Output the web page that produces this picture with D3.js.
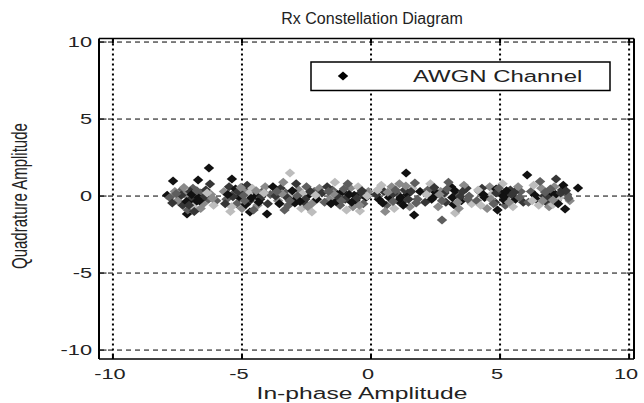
<!DOCTYPE html>
<html>
<head>
<meta charset="utf-8">
<script src="https://cdn.jsdelivr.net/npm/d3@7"></script>
<style>
  html, body { margin: 0; padding: 0; background: #fff; }
  svg { display: block; font-family: "Liberation Sans", Arial, sans-serif; }
</style>
</head>
<body>
<svg id="chart" width="644" height="403"></svg>
<script>
// ---------- data ----------
const titleText = "Rx Constellation Diagram";
const xLabelText = "In-phase Amplitude";
const yLabelText = "Quadrature Amplitude";
const legendLabel = "AWGN Channel";
const xTicks = [-10, -5, 0, 5, 10];
const yTicks = [-10, -5, 0, 5, 10];
const xLimits = [-10.54, 10.19];
const yLimits = [-10.58, 10.23];

// received in-phase values
const inPhase = [
  -7.9,-7.67,-6.7,-6.24,-6.28,-7.13,-7.4,-7.2,-7.0,-6.8,-6.6,-7.5,-6.9,-7.3,-6.5,-7.1,-6.4,-6.3,-6.9,-7.6,-6.7,-6.2,-6.0,-7.0,-6.6,-6.1,-7.8,-6.85,
  -5.39,-4.69,-4.03,-5.5,-5.3,-5.1,-4.9,-4.7,-5.2,-4.5,-4.4,-5.6,-4.8,-4.2,-4.6,-5.0,-4.3,-5.4,-4.1,-5.7,-4.0,-4.85,-5.25,-4.55,-3.9,-5.45,-4.75,
  -3.14,-2.29,-3.5,-3.3,-3.0,-2.8,-2.6,-3.2,-2.4,-3.6,-2.9,-2.2,-3.4,-2.7,-2.5,-3.1,-2.3,-3.7,-2.1,-3.35,-2.95,-2.65,-3.8,-2.0,
  -0.43,-1.5,-1.3,-1.0,-0.8,-0.6,-1.2,-0.4,-1.6,-0.9,-0.2,-1.4,-0.7,-0.5,-1.1,-0.3,-1.7,-0.1,-1.35,-0.95,-1.8,-0.65,-1.9,
  1.36,1.67,0.5,0.7,1.0,1.2,0.8,1.4,0.6,1.6,0.3,1.1,1.8,0.9,1.3,0.4,1.5,0.2,1.9,0.75,1.05,0.55,1.7,
  2.75,3.26,2.2,2.4,2.7,2.9,3.1,3.3,2.6,3.5,3.7,2.3,3.0,3.4,2.1,3.8,2.8,3.6,3.2,2.5,3.9,2.45,
  4.2,4.4,4.6,4.8,5.0,5.2,5.4,5.6,4.5,5.1,4.3,5.8,4.9,5.3,4.7,5.5,4.1,5.9,5.15,4.85,5.7,4.25,
  6.05,8.02,7.17,7.52,6.2,6.4,6.6,6.8,7.0,7.2,7.4,6.3,6.9,7.6,6.5,7.1,6.7,7.3,7.7,6.1,6.85,7.45,6.55,7.05,
  -7.35,-6.95,-6.75,-7.15,-6.45,-7.55,-6.65,-7.25,-6.35,-7.05,-6.15,-7.7,
  -5.35,-4.95,-4.65,-5.15,-4.45,-5.55,-4.25,-4.9,-5.05,-4.35,-5.65,-4.15,
  -3.25,-2.85,-3.05,-2.55,-3.45,-2.75,-3.15,-2.35,-3.55,-2.45,-2.15,-3.65,
  -1.25,-0.85,-1.05,-0.55,-1.45,-0.75,-1.15,-0.35,-1.55,-0.45,-0.15,-1.65,
  0.85,1.15,0.95,1.45,0.65,1.25,0.85,1.55,0.45,1.35,0.25,1.75,
  2.85,3.15,2.95,3.45,2.65,3.25,2.75,3.55,2.35,3.35,2.15,3.75,
  4.85,5.15,4.95,5.45,4.65,5.25,4.75,5.55,4.35,5.35,4.15,5.75,
  6.85,7.15,6.95,7.35,6.65,7.25,6.75,7.55,6.35,7.05,6.25,7.65
];
// received quadrature values
const quadrature = [
  0.05,0.97,1.04,0.78,1.82,-1.17,0.3,0.1,-0.2,-0.4,0.2,-0.3,0.5,-0.6,-0.5,-0.9,0.4,-0.2,-0.7,0.3,-0.1,0.1,-0.3,0.3,-0.8,-0.6,-0.1,-1.0,
  1.1,-1.04,-1.17,0.6,0.2,-0.1,0.4,-0.3,-0.5,0.1,-0.6,-0.2,0.7,0.3,0.5,-0.8,-0.2,-0.7,0.6,0.3,-0.5,-0.55,0.45,-0.9,0.1,-1.0,0.15,
  1.49,-1.04,0.5,0.2,-0.2,0.4,-0.4,-0.6,0.1,-0.3,0.8,0.3,0.9,-0.8,0.6,0.1,-0.5,0.0,-0.2,-0.9,-0.45,0.15,0.6,0.5,
  -0.97,0.4,0.1,-0.2,0.5,-0.3,-0.6,0.2,-0.2,0.8,-0.1,0.9,-0.7,0.6,0.3,-0.5,0.6,0.3,-0.35,-0.9,-0.4,0.05,0.2,
  1.49,-1.23,0.3,-0.1,0.2,-0.4,0.6,0.1,-0.6,0.5,-0.2,0.8,-0.2,-0.8,0.4,0.7,-0.7,0.1,0.3,0.0,-0.3,-1.0,0.85,
  -1.56,-1.1,0.4,-0.1,0.3,-0.4,0.6,0.1,-0.7,-0.3,0.5,0.8,0.9,-0.8,-0.4,0.0,0.05,0.7,-0.55,0.25,-0.5,0.55,
  0.3,-0.1,0.6,-0.4,0.2,-0.6,0.4,-0.2,-0.8,0.8,0.5,0.3,-0.9,0.0,0.15,-0.7,-0.3,-0.4,-0.25,0.45,0.6,-0.6,
  1.36,0.52,1.1,-0.84,0.3,-0.2,0.5,-0.4,0.2,-0.3,0.4,0.7,-0.7,0.1,-0.6,0.6,0.0,-0.1,-0.3,-0.4,0.25,0.7,0.95,-0.55,
  0.05,0.1,0.35,-0.35,-0.05,0.15,-0.3,0.55,0.2,-0.6,-0.15,-0.45,
  -0.05,0.05,-0.15,0.3,0.35,0.1,-0.05,-0.3,0.55,-0.4,-0.5,0.2,
  -0.1,0.0,0.35,-0.2,0.15,-0.35,-0.3,0.3,-0.5,-0.7,0.05,0.3,
  -0.1,0.1,0.45,-0.15,0.15,-0.4,-0.3,0.35,-0.5,-0.6,0.0,0.3,
  0.15,-0.1,0.4,-0.2,0.25,-0.6,-0.35,0.3,-0.45,0.65,0.4,-0.45,
  0.2,-0.1,0.45,-0.05,0.1,0.35,-0.3,0.3,-0.2,-0.4,0.1,-0.2,
  0.2,-0.05,0.5,0.1,-0.2,0.35,-0.5,0.25,0.1,-0.4,0.4,-0.1,
  -0.15,0.1,0.45,0.2,-0.3,-0.5,0.25,0.35,0.05,-0.25,-0.3,-0.15
];
// shade group of each point (0 = darkest ... 4 = lightest)
const shadeGroup = [
  0,0,0,1,0,0,2,3,1,0,2,3,2,1,3,2,1,2,4,3,0,3,2,1,3,4,2,1,
  0,0,0,1,2,0,3,1,2,0,3,2,1,2,4,3,0,4,3,3,1,0,0,2,2,4,4,
  4,4,1,2,0,3,1,2,0,3,1,2,3,4,2,4,3,1,0,2,0,4,0,3,
  4,2,0,1,3,0,2,1,3,2,0,4,3,4,0,2,1,3,0,4,2,0,1,
  0,0,1,0,2,1,3,0,2,4,0,3,2,4,1,4,3,1,0,0,0,3,2,
  2,4,2,0,3,1,0,2,3,0,1,4,2,3,1,2,4,3,0,0,4,1,
  2,0,3,1,0,2,1,0,3,4,1,2,0,3,4,4,2,1,0,0,3,4,
  0,0,1,0,2,0,3,1,0,2,1,4,3,2,4,3,1,4,3,2,0,0,2,4,
  1,0,2,0,1,2,0,3,4,1,3,1,
  1,2,0,1,3,0,1,2,3,0,1,4,
  1,2,0,1,3,0,2,1,0,3,4,2,
  1,0,2,1,3,0,2,1,0,3,4,2,
  1,0,2,1,3,0,2,1,0,3,4,2,
  1,0,2,1,3,0,2,1,0,3,4,2,
  1,0,2,1,3,0,2,1,0,3,4,2,
  1,0,2,1,3,0,2,1,0,3,4,2
];

// ---------- layout ----------
const svg = d3.select("#chart");
const box = { left: 99, right: 634, top: 38.5, bottom: 359 };
const x = d3.scaleLinear().domain(xLimits).range([box.left, box.right]);
const y = d3.scaleLinear().domain(yLimits).range([box.bottom, box.top]);
const shade = d3.scaleOrdinal().domain([0,1,2,3,4]).range(["#111111","#363636","#5e5e5e","#8a8a8a","#bdbdbd"]);
const stretch = 1.45; // horizontal glyph stretch seen in the picture

const diamond = "M0,-4.5L5.2,0L0,4.5L-5.2,0Z";

svg.append("rect").attr("x", box.left).attr("y", box.top)
  .attr("width", box.right - box.left).attr("height", box.bottom - box.top).attr("fill", "#fff");

// grid lines
const grid = svg.append("g");
grid.selectAll("line.vg").data(xTicks).join("line")
  .attr("x1", d => x(d)).attr("x2", d => x(d))
  .attr("y1", box.top).attr("y2", box.bottom)
  .attr("stroke", "#000").attr("stroke-width", 2).attr("stroke-dasharray", "2,3");
grid.selectAll("line.hg").data(yTicks).join("line")
  .attr("x1", box.left).attr("x2", box.right)
  .attr("y1", d => y(d)).attr("y2", d => y(d))
  .attr("stroke", "#000").attr("stroke-width", 1).attr("stroke-dasharray", "5,4");

// points
const pts = inPhase.map((v, i) => ({ i: v, q: quadrature[i], g: shadeGroup[i] }));
svg.append("g").selectAll("path").data(pts).join("path")
  .attr("d", diamond)
  .attr("transform", d => `translate(${x(d.i)},${y(d.q)})`)
  .attr("fill", d => shade(d.g));

// axes box and inward ticks
const tl = 5;
const ax = svg.append("g").attr("stroke", "#000");
ax.selectAll("line.bt").data(xTicks).join("line")
  .attr("x1", d => x(d)).attr("x2", d => x(d)).attr("y1", box.bottom).attr("y2", box.bottom - tl).attr("stroke-width", 2);
ax.selectAll("line.tt").data(xTicks).join("line")
  .attr("x1", d => x(d)).attr("x2", d => x(d)).attr("y1", box.top).attr("y2", box.top + tl).attr("stroke-width", 2);
ax.selectAll("line.lt").data(yTicks).join("line")
  .attr("y1", d => y(d)).attr("y2", d => y(d)).attr("x1", box.left).attr("x2", box.left + tl * 1.5).attr("stroke-width", 1);
ax.selectAll("line.rt").data(yTicks).join("line")
  .attr("y1", d => y(d)).attr("y2", d => y(d)).attr("x1", box.right).attr("x2", box.right - tl * 1.5).attr("stroke-width", 1);
ax.append("line").attr("x1", box.left).attr("x2", box.right).attr("y1", box.top).attr("y2", box.top).attr("stroke-width", 1.5);
ax.append("line").attr("x1", box.left).attr("x2", box.right).attr("y1", box.bottom).attr("y2", box.bottom).attr("stroke-width", 1.5);
ax.append("line").attr("x1", box.left).attr("x2", box.left).attr("y1", box.top).attr("y2", box.bottom).attr("stroke-width", 2);
ax.append("line").attr("x1", box.right).attr("x2", box.right).attr("y1", box.top).attr("y2", box.bottom).attr("stroke-width", 2);

// helper for stretched text
function stext(px, py, str, size, anchor, rot) {
  const g = svg.append("g").attr("transform", `translate(${px},${py}) scale(${stretch},1)` + (rot ? ` rotate(${rot})` : ""));
  g.append("text").attr("x", 0).attr("y", 0).attr("text-anchor", anchor)
    .attr("font-size", size).attr("fill", "#222").text(str);
  return g;
}

// tick labels
xTicks.forEach(t => stext(x(t) - 3, 379, String(t), 15, "middle"));
yTicks.forEach(t => stext(92, y(t) + 5, String(t), 15, "end"));

// axis titles
stext(362, 399, xLabelText, 17, "middle");
stext(27, y(0), yLabelText, 15, "middle", -90);
svg.append("text").attr("x", 372).attr("y", 24).attr("text-anchor", "middle")
  .attr("font-size", 16).attr("fill", "#222").text(titleText);

// legend
const lg = svg.append("g");
lg.append("rect").attr("x", 311).attr("y", 62).attr("width", 299).attr("height", 28.5)
  .attr("fill", "#fff").attr("stroke", "#000").attr("stroke-width", 1.5);
lg.append("path").attr("d", diamond).attr("transform", "translate(343,76)").attr("fill", "#000");
stext(413, 82, legendLabel, 16.5, "start");
</script>
</body>
</html>
